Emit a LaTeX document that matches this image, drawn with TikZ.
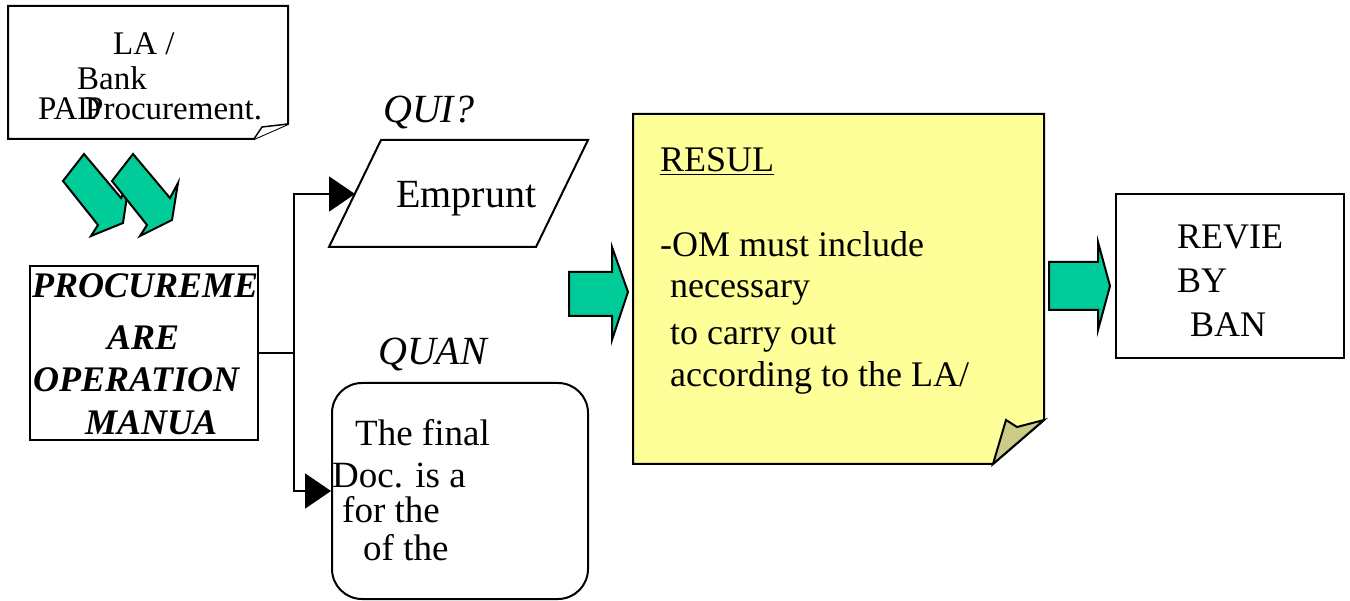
\documentclass[tikz,border=0pt]{standalone}
\usepackage{fontspec}
\setmainfont{Liberation Serif}
\usetikzlibrary{arrows.meta}
\definecolor{tealgreen}{HTML}{00CC99}
\definecolor{notey}{HTML}{FFFF99}
\definecolor{foldk}{HTML}{CCCC88}
\tikzset{
  outline/.style={draw=black, line width=2pt, line join=miter},
  box/.style={outline, fill=white, inner sep=0pt},
  conn/.style={line width=2pt},
  tri/.style={-{Triangle[length=26pt,width=35pt]}},
  greenshape/.style={outline, fill=tealgreen},
  tA/.style={anchor=base west, inner sep=0pt, font=\fontsize{33}{38}\selectfont},
  tB/.style={anchor=base west, inner sep=0pt, font=\fontsize{36}{40}\selectfont},
  tBI/.style={anchor=base west, inner sep=0pt, font=\fontsize{36}{40}\selectfont\bfseries\itshape},
  tC/.style={anchor=base west, inner sep=0pt, font=\fontsize{40}{44}\selectfont},
  tCI/.style={anchor=base west, inner sep=0pt, font=\fontsize{40}{44}\selectfont\itshape},
  tD/.style={anchor=base west, inner sep=0pt, font=\fontsize{37}{40}\selectfont},
}
\begin{document}
\begin{tikzpicture}[x=1pt,y=-1pt]
\useasboundingbox (0,0) rectangle (1350,601);
\fill[white] (0,0) rectangle (1350,601);

% top-left note with folded corner
\draw[outline, fill=white] (8,6) -- (288,6) -- (288,124) -- (254,139) -- (8,139) -- cycle;
\draw[outline, fill=white, line width=1.5pt] (254,139) -- (262,127) -- (288,124);
\node[tA] (la1) at (113,55) {LA /};
\node[tA] (la2) at (77,90) {Bank};
\node[tA] (la3) at (38,120) {PAD};
\node[tA] (la4) at (85,120) {Procurement.};

% two green chevron arrows
\draw[greenshape] (63,181) -- (84,154) -- (121,198) -- (129,183) -- (123,223) -- (91,236) -- (98,225) -- cycle;
\draw[greenshape] (112,181) -- (133,154) -- (170,198) -- (178,183) -- (172,220) -- (140,236) -- (147,225) -- cycle;

% procurement manual box
\node[box, minimum width=228pt, minimum height=174pt] (proc) at (144,353) {};
\node[tBI] (p1) at (32,298) {PROCUREME};
\node[tBI] (p2) at (107,350) {ARE};
\node[tBI] (p3) at (33,392) {OPERATION};
\node[tBI] (p4) at (85,435) {MANUA};

% QUI? parallelogram
\node[tCI] (qui) at (383,123) {QUI?};
\draw[outline, fill=white] (381,140) -- (588,140) -- (536,247) -- (329,247) -- cycle;
\coordinate (quiL) at (355,194);
\node[tC] (emp) at (396,208) {Emprunt};

% QUAND rounded box
\node[tCI] (quanlbl) at (378,365) {QUAN};
\node[box, rounded corners=30pt, minimum width=256pt, minimum height=216pt] (quan) at (460,491) {};
\node[tD] (q1) at (355,446) {The final};
\node[tD] (q2) at (332,487) {Doc. is a};
\node[tD] (q3) at (342,522) {for the};
\node[tD] (q4) at (363,560) {of the};

% connectors
\coordinate (junc) at (294,353);
\draw[conn] (proc.east) -- (junc);
\draw[conn, tri] (junc) |- (quiL);
\draw[conn, tri] (junc) |- (quan.west);

% green block arrow to results
\draw[greenshape] (569,272) -- (612,272) -- (612,247) -- (628,292) -- (612,340) -- (612,316) -- (569,316) -- cycle;

% yellow note
\draw[outline, fill=notey] (633,114) -- (1044,114) -- (1044,420) -- (993,464) -- (633,464) -- cycle;
\draw[outline, fill=foldk] (993,464) -- (1006,420) -- (1017,427) -- (1044,420) -- cycle;
\node[tB] (r1) at (660,172) {\underline{RESUL}};
\node[tB] (r2) at (660,257) {-OM must include};
\node[tB] (r3) at (670,298) {necessary};
\node[tB] (r4) at (670,345) {to carry out};
\node[tB] (r5) at (670,387) {according to the LA/};

% green arrow to review
\draw[greenshape] (1049,262) -- (1098,262) -- (1098,242) -- (1110,286) -- (1098,330) -- (1098,310) -- (1049,310) -- cycle;

% review box
\node[box, minimum width=228pt, minimum height=164pt] (rev) at (1230,276) {};
\node[tB] (v1) at (1177,249) {REVIE};
\node[tB] (v2) at (1177,293) {BY};
\node[tB] (v3) at (1190,337) {BAN};
\end{tikzpicture}
\end{document}
